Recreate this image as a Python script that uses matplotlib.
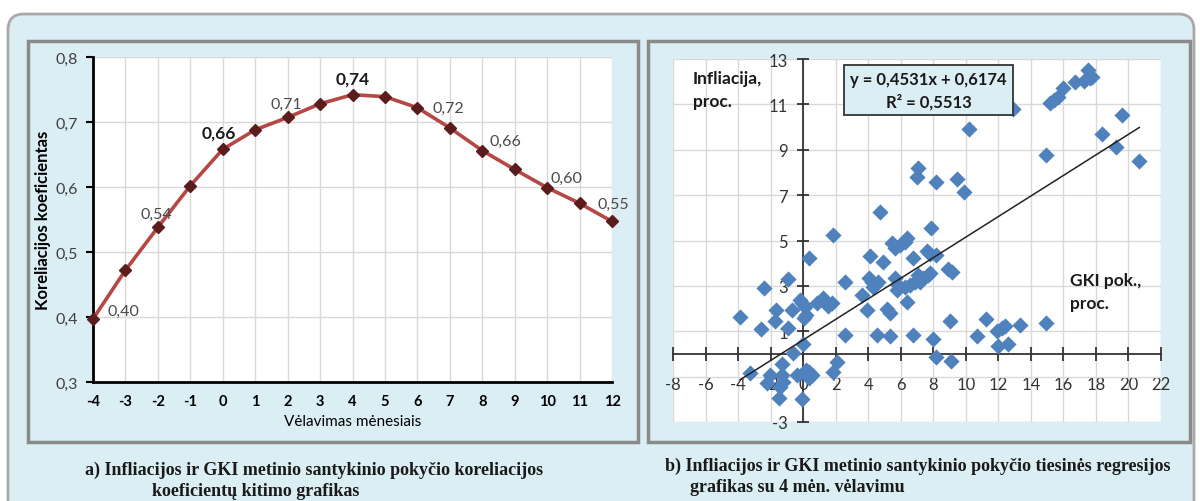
import matplotlib
matplotlib.use("Agg")
import matplotlib.pyplot as plt
from matplotlib.patches import FancyBboxPatch, Rectangle
import numpy as np

plt.rcParams['font.family'] = ['Lato', 'DejaVu Sans']

# ---------------- data ----------------
lags = [-4, -3, -2, -1, 0, 1, 2, 3, 4, 5, 6, 7, 8, 9, 10, 11, 12]
corr = [0.397, 0.472, 0.538, 0.602, 0.658, 0.688, 0.707, 0.728, 0.742,
        0.739, 0.722, 0.691, 0.656, 0.627, 0.599, 0.575, 0.547]
corr_yticks = [0.3, 0.4, 0.5, 0.6, 0.7, 0.8]
corr_yticklabels = ["0,3", "0,4", "0,5", "0,6", "0,7", "0,8"]
# labelled points: lag -> text
corr_labels = {-4: "0,40", -2: "0,54", 0: "0,66", 2: "0,71", 4: "0,74",
               6: "0,72", 8: "0,66", 10: "0,60", 12: "0,55"}
bold_labels = [0, 4]

gki = [-3.87, -3.26, -2.58, -2.38, -2.03, -2.23, -1.66, -1.72, -1.31, -1.31,
       -1.21, -1.41, -1.48, -0.90, -0.90, -0.69, -0.60, -0.39, -0.18, -0.08,
       0.12, 0.18, 0.06, 0.02, -0.08, 0.18, 0.39, 0.53, 0.33, 0.39,
       0.84, 1.25, 1.41, 1.55, 1.80, 1.86, 1.82, 2.07,
       2.58, 2.58, 3.61, 3.91, 4.02, 4.22, 4.43, 4.63, 4.32, 4.12,
       4.94, 4.73, 4.53, 5.14, 5.35, 5.35, 5.45, 5.65, 5.96, 6.37,
       6.27, 5.65, 5.86, 5.76, 6.27, 6.58, 6.88, 6.37, 6.74, 6.78,
       7.09, 7.19, 7.39, 7.70, 7.81, 7.09, 7.03, 7.60, 7.81, 8.17,
       7.87, 8.17, 8.01, 8.17, 8.93, 9.14, 9.00, 9.08, 9.45, 9.92,
       10.22, 10.71, 11.25, 11.94, 12.21, 12.42, 11.96, 12.62, 12.93, 13.34,
       14.94, 14.94, 15.18, 15.45, 15.69, 15.96, 16.72, 17.27, 17.54, 17.74,
       17.64, 18.36, 19.22, 19.59, 20.67]
infl = [1.65, -0.85, 1.09, 2.89, -0.93, -1.29, 1.94, 1.43, -0.44, -0.93,
        -1.22, -1.44, -1.95, 3.29, 1.13, 1.94, 0.03, -0.93, 2.38, 2.23,
        2.09, 1.72, 1.57, 0.43, -2.00, -0.70, -0.81, -0.95, -1.07, 4.25,
        2.23, 2.45, 2.31, 2.13, 2.23, 5.24, -0.81, -0.37,
        3.19, 0.84, 2.60, 1.94, 3.33, 3.19, 3.04, 3.19, 2.93, 4.33,
        4.04, 6.27, 0.84, 1.98, 1.79, 0.81, 4.88, 4.66, 4.80, 5.10,
        4.95, 3.33, 3.04, 2.82, 2.97, 3.04, 3.19, 2.31, 0.84, 4.25,
        3.48, 3.19, 3.33, 3.48, 3.55, 8.21, 7.81, 4.54, 4.39, 4.36,
        5.54, 7.59, 0.65, -0.15, 3.73, 3.59, 1.46, -0.29, 7.70, 7.12,
        9.91, 0.79, 1.53, 0.99, 1.13, 1.21, 0.37, 0.44, 10.79, 1.28,
        8.77, 1.38, 11.04, 11.19, 11.34, 11.70, 12.00, 12.04, 12.51, 12.22,
        12.15, 9.68, 9.11, 10.53, 8.50]
slope = 0.4531
intercept = 0.6174
r2_text = "R² = 0,5513"
eq_text = "y = 0,4531x + 0,6174"
sc_xticks = list(range(-8, 23, 2))
sc_yticks = list(range(-3, 14, 2))

caption_a = ["a) Infliacijos ir GKI metinio santykinio pokyčio koreliacijos",
             "koeficientų kitimo grafikas"]
caption_b = ["b) Infliacijos ir GKI metinio santykinio pokyčio tiesinės regresijos",
             "grafikas su 4 mėn. vėlavimu"]

# ---------------- figure ----------------
W, H = 1200, 502
fig = plt.figure(figsize=(12, 5.02), dpi=100)
bg = fig.add_axes([0, 0, 1, 1], zorder=-5)
bg.set_xlim(0, W)
bg.set_ylim(H, 0)
bg.axis('off')

blue_bg = '#dbeef4'
bg.add_patch(FancyBboxPatch((8, 15), 1186, 530,
                            boxstyle='round,pad=0,rounding_size=16',
                            fc=blue_bg, ec='#a9a9a9', lw=2))
bg.add_patch(Rectangle((28, 42), 610, 401, fc=blue_bg, ec='#8a8a8a', lw=2.5))
bg.add_patch(Rectangle((648, 42), 542, 401, fc=blue_bg, ec='#8a8a8a', lw=2.5))

capfont = dict(family='Liberation Serif', weight='bold', fontsize=13,
               color='#1a1a1a', va='center', ha='left')
bg.text(85, 470, caption_a[0], **capfont)
bg.text(152, 492, caption_a[1], **capfont)
bg.text(665, 466, caption_b[0], **capfont)
bg.text(690, 488, caption_b[1], **capfont)


def frac(x0, y0, x1, y1):
    return [x0 / W, (H - y1) / H, (x1 - x0) / W, (y1 - y0) / H]


# ---------------- left chart ----------------
ax1 = fig.add_axes(frac(93, 58, 612, 383))
ax1.set_facecolor('white')
ax1.set_xlim(-4, 12)
ax1.set_ylim(0.3, 0.8)
ax1.set_xticks(lags)
ax1.set_xticklabels([str(v) for v in lags])
ax1.set_yticks(corr_yticks)
ax1.set_yticklabels(corr_yticklabels)
ax1.grid(True, color='#d9d9d9', lw=1)
ax1.set_axisbelow(True)
for s in ['top', 'right']:
    ax1.spines[s].set_visible(False)
for s in ['left', 'bottom']:
    ax1.spines[s].set_linewidth(2)
    ax1.spines[s].set_color('black')
ax1.tick_params(axis='y', direction='out', length=5, width=1.5, pad=6,
                labelsize=11.5, labelcolor='#404040')
ax1.tick_params(axis='x', length=0, pad=9, labelsize=10.5, labelcolor='black')
for lab in ax1.get_xticklabels():
    lab.set_fontweight('bold')
ax1.plot(lags, corr, color='#b54744', lw=2.6, marker='D', ms=6,
         mfc='#5a1c1c', mec='#5a1c1c', clip_on=False, zorder=3)
ax1.set_xlabel("Vėlavimas mėnesiais", fontsize=11, labelpad=4)
ax1.set_ylabel("Koreliacijos koeficientas", fontsize=12, fontweight='bold',
               labelpad=3)

label_offsets = {-4: (22, 6), -2: (-1, 10), 0: (-3, 12), 2: (-1, 10),
                 4: (0, 12), 6: (22, 0), 8: (17, 7), 10: (14, 7), 12: (1, 13)}
for lag, txt in corr_labels.items():
    val = corr[lags.index(lag)]
    bold = lag in bold_labels
    ax1.annotate(txt, (lag, val), xytext=label_offsets[lag],
                 textcoords='offset points', ha='center', va='center',
                 fontsize=12.5 if bold else 11.5,
                 fontweight='bold' if bold else 'normal',
                 color='#1a1a1a' if bold else '#4a4a4a',
                 annotation_clip=False)

# ---------------- right chart ----------------
ax2 = fig.add_axes(frac(673, 60, 1161, 423))
ax2.set_facecolor('white')
ax2.set_xlim(-8, 22)
ax2.set_ylim(-3, 13)
ax2.set_xticks(sc_xticks)
ax2.set_yticks(sc_yticks)
ax2.set_xticklabels([str(v) for v in sc_xticks])
ax2.set_yticklabels([str(v) for v in sc_yticks])
ax2.grid(True, color='#d9d9d9', lw=1)
ax2.set_axisbelow(True)
ax2.spines['left'].set_position(('data', 0))
ax2.spines['bottom'].set_position(('data', 0))
for s in ['top', 'right']:
    ax2.spines[s].set_visible(False)
for s in ['left', 'bottom']:
    ax2.spines[s].set_linewidth(1.3)
    ax2.spines[s].set_color('#333333')
ax2.tick_params(axis='x', direction='inout', length=10, width=1.3,
                color='#333333', pad=11, labelsize=12, labelcolor='#333333')
ax2.tick_params(axis='y', direction='inout', length=8, width=1.3,
                color='#333333', pad=7, labelsize=12, labelcolor='#333333')

ax2.scatter(gki, infl, marker='D', s=68, color='#4f81bd', zorder=3,
            linewidths=0)
xs = np.array([min(gki), max(gki)])
ax2.plot(xs, slope * xs + intercept, color='#222222', lw=1.1, zorder=4)

ax2.text(7.7, 11.62, eq_text + "\n" + r2_text, ha='center', va='center',
         fontsize=12, fontweight='bold', color='#1a1a1a', linespacing=1.45,
         bbox=dict(boxstyle='square,pad=0.35', fc=blue_bg, ec='#333333', lw=1.3),
         zorder=5)
ax2.text(-6.8, 12.5, "Infliacija,\nproc.", ha='left', va='top', fontsize=12.5,
         fontweight='bold', color='#1a1a1a', linespacing=1.5)
ax2.text(16.4, 3.6, "GKI pok.,\nproc.", ha='left', va='top', fontsize=12.5,
         fontweight='bold', color='#1a1a1a', linespacing=1.5)

fig.savefig("out.png", dpi=100)
